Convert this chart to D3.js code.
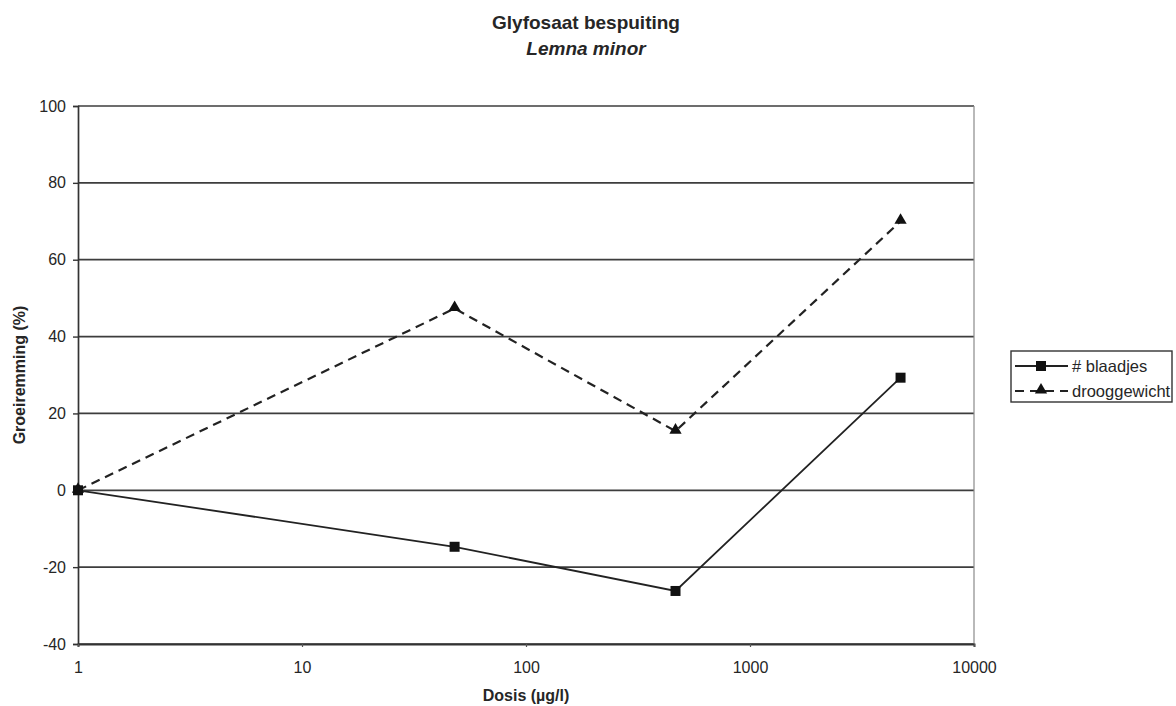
<!DOCTYPE html>
<html>
<head>
<meta charset="utf-8">
<script src="https://cdn.jsdelivr.net/npm/d3@7"></script>
<style>
  html, body { margin: 0; padding: 0; background: #fff; }
  svg { display: block; font-family: "Liberation Sans", Arial, sans-serif; }
</style>
</head>
<body>
<svg id="chart" width="1176" height="706"></svg>
<script>
// Dose (µg/l) of each treatment
const doses = [1, 48, 465, 4700];
// Growth inhibition (%) per endpoint
const blaadjes = [0, -14.7, -26.2, 29.3];
const drooggewicht = [0, 47.3, 15.4, 70.0];
// Axis ticks
const xTicks = [1, 10, 100, 1000, 10000];
const yTicks = [-40, -20, 0, 20, 40, 60, 80, 100];
const seriesNames = ["# blaadjes", "drooggewicht"];

const svg = d3.select("#chart");
const plotLeft = 78, plotRight = 974, plotTop = 106, plotBottom = 644;

const x = d3.scaleLog().domain([1, 10000]).range([plotLeft, plotRight]);
const y = d3.scaleLinear().domain([-40, 100]).range([plotBottom, plotTop]);

const ink = "#262626";
const plainNumber = d => String(d);

// Titles
svg.append("text").attr("x", 586).attr("y", 29).attr("text-anchor", "middle")
  .attr("font-size", 19).attr("font-weight", "bold").attr("fill", ink)
  .text("Glyfosaat bespuiting");
svg.append("text").attr("x", 586).attr("y", 55).attr("text-anchor", "middle")
  .attr("font-size", 19).attr("font-weight", "bold").attr("font-style", "italic").attr("fill", ink)
  .text("Lemna minor");

// Horizontal gridlines
svg.append("g").selectAll("line").data(yTicks).join("line")
  .attr("x1", plotLeft).attr("x2", plotRight)
  .attr("y1", d => y(d)).attr("y2", d => y(d))
  .attr("stroke", "#3d3d3d").attr("stroke-width", 1.7);

// Right border of plot area
svg.append("line").attr("x1", plotRight).attr("x2", plotRight).attr("y1", plotTop).attr("y2", plotBottom)
  .attr("stroke", "#8a8a8a").attr("stroke-width", 1.2);

// Y axis
const yAxis = svg.append("g").attr("transform", `translate(${plotLeft},0)`)
  .call(d3.axisLeft(y).tickValues(yTicks).tickSize(5).tickPadding(7).tickFormat(plainNumber));
yAxis.select(".domain").attr("stroke", "#333").attr("stroke-width", 1.7);
yAxis.selectAll(".tick line").attr("stroke", "#333").attr("stroke-width", 1.4);
yAxis.selectAll("text").attr("font-size", 16).attr("fill", ink).attr("font-family", "Liberation Sans, Arial, sans-serif");

// X axis (log)
const xAxis = svg.append("g").attr("transform", `translate(0,${plotBottom})`)
  .call(d3.axisBottom(x).tickValues(xTicks).tickSize(3).tickPadding(15).tickFormat(plainNumber));
xAxis.select(".domain").attr("stroke", "#333").attr("stroke-width", 1.9);
xAxis.selectAll(".tick line").attr("stroke", "#555").attr("stroke-width", 1.2);
xAxis.selectAll("text").attr("font-size", 16).attr("fill", ink).attr("font-family", "Liberation Sans, Arial, sans-serif");

// Axis titles
svg.append("text").attr("x", 526).attr("y", 701).attr("text-anchor", "middle")
  .attr("font-size", 16).attr("font-weight", "bold").attr("fill", ink)
  .text("Dosis (µg/l)");
svg.append("text").attr("transform", "translate(25,375) rotate(-90)").attr("text-anchor", "middle")
  .attr("font-size", 16).attr("font-weight", "bold").attr("fill", ink)
  .text("Groeiremming (%)");

const line = d3.line().x(d => x(d[0])).y(d => y(d[1]));
const sq = d3.symbol().type(d3.symbolSquare).size(100);
const tri = d3.symbol().type(d3.symbolTriangle).size(65);

// Dry weight series (dashed, triangles)
const dwPts = doses.map((d, i) => [d, drooggewicht[i]]);
svg.append("path").datum(dwPts).attr("d", line).attr("fill", "none")
  .attr("stroke", "#222").attr("stroke-width", 2.2).attr("stroke-dasharray", "9,6");
svg.append("g").selectAll("path").data(dwPts).join("path")
  .attr("d", tri).attr("transform", d => `translate(${x(d[0])},${y(d[1]) - 1})`).attr("fill", "#111");

// Leaf count series (solid, squares)
const blPts = doses.map((d, i) => [d, blaadjes[i]]);
svg.append("path").datum(blPts).attr("d", line).attr("fill", "none")
  .attr("stroke", "#222").attr("stroke-width", 1.8);
svg.append("g").selectAll("path").data(blPts).join("path")
  .attr("d", sq).attr("transform", d => `translate(${x(d[0])},${y(d[1])})`).attr("fill", "#111");

// Legend
const lg = svg.append("g");
lg.append("rect").attr("x", 1011).attr("y", 351).attr("width", 161).attr("height", 51)
  .attr("fill", "#fff").attr("stroke", "#333").attr("stroke-width", 1.4);
const legendRows = [
  { name: seriesNames[0], dash: null, sym: sq, w: 1.8 },
  { name: seriesNames[1], dash: "9,6", sym: tri, w: 2.2 }
];
legendRows.forEach((r, i) => {
  const cy = 366 + i * 25;
  lg.append("line").attr("x1", 1015).attr("x2", 1068).attr("y1", cy).attr("y2", cy)
    .attr("stroke", "#222").attr("stroke-width", r.w).attr("stroke-dasharray", r.dash);
  lg.append("path").attr("d", r.sym).attr("transform", `translate(1041,${cy - (i ? 1 : 0)})`).attr("fill", "#111");
  lg.append("text").attr("x", 1072).attr("y", cy + 6).attr("font-size", 16.5).attr("fill", ink)
    .text(r.name);
});
</script>
</body>
</html>
